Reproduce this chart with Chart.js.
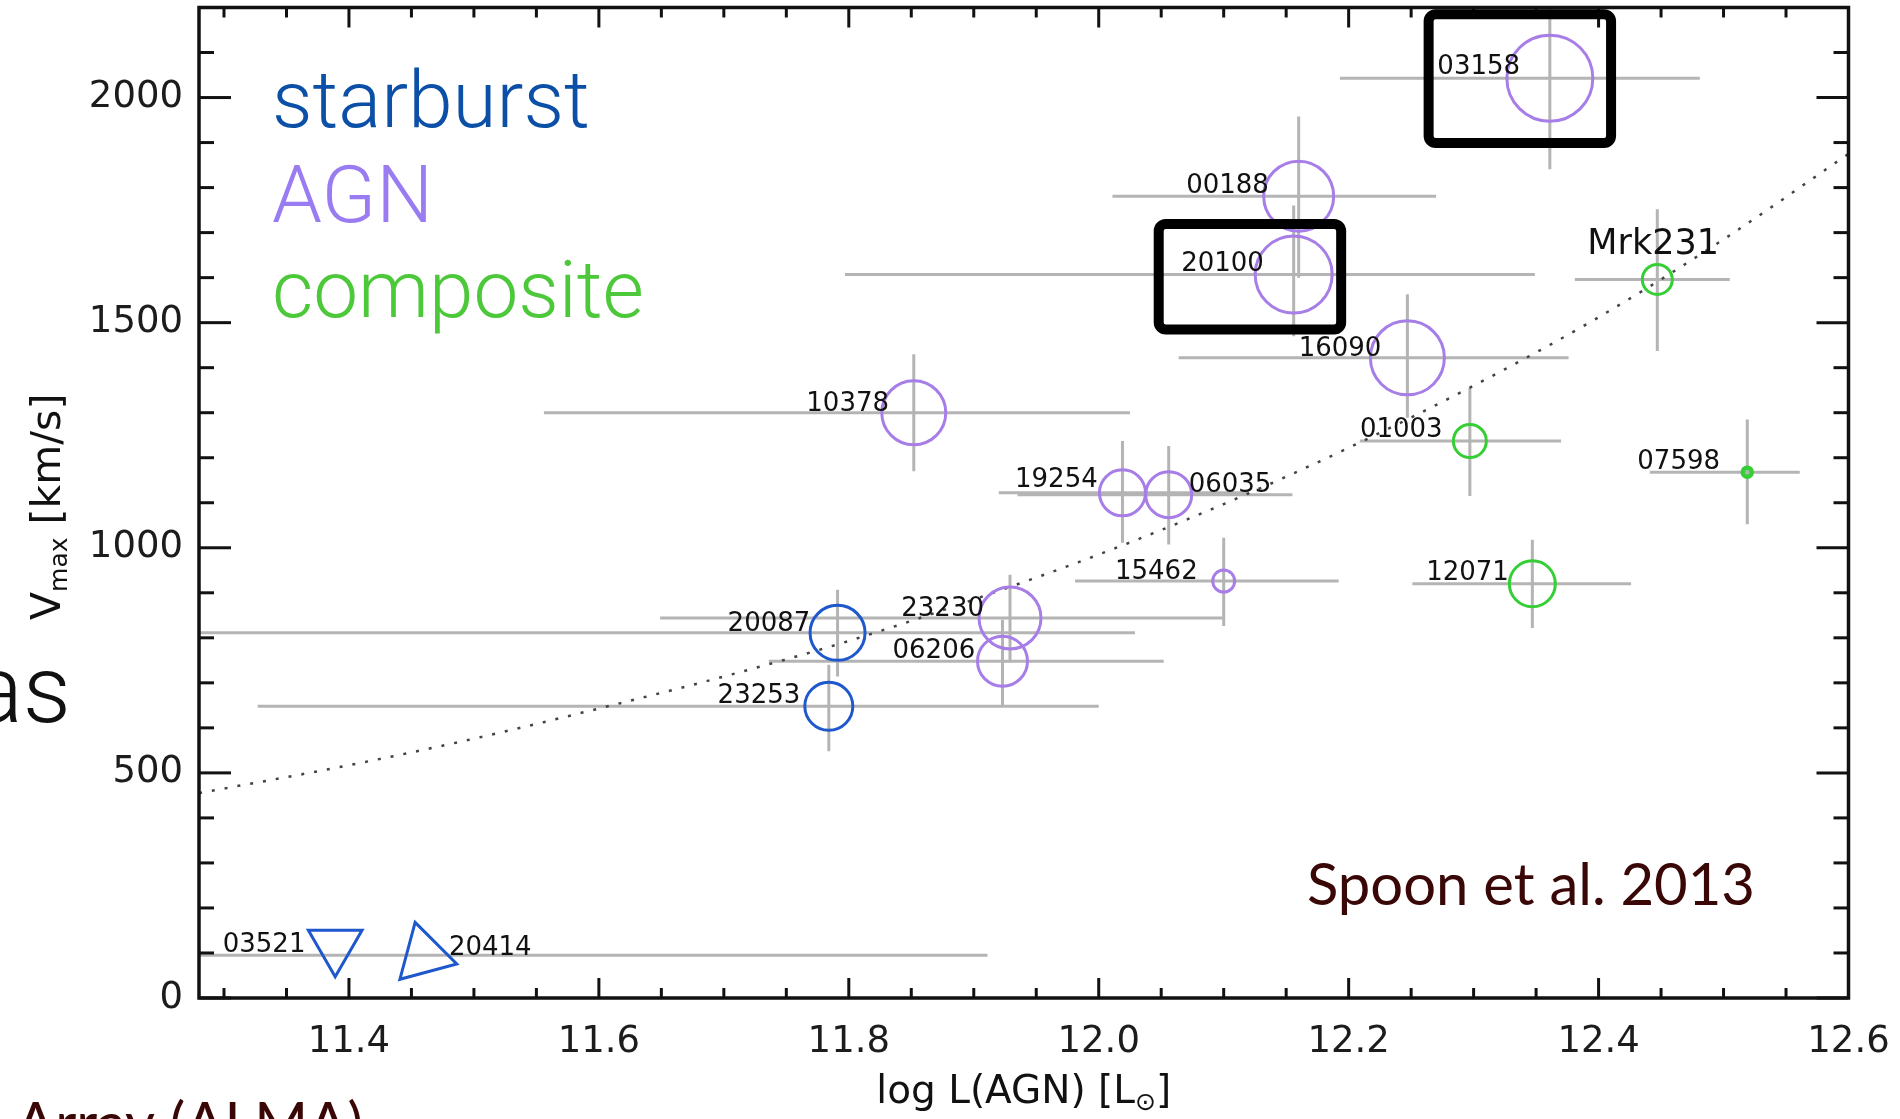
<!DOCTYPE html>
<html><head><meta charset="utf-8">
<script src="https://cdn.jsdelivr.net/npm/chart.js@4.4.1/dist/chart.umd.min.js"></script>
<style>html,body{margin:0;padding:0;background:#fff;overflow:hidden;}canvas{display:block;}</style>
</head><body>
<canvas id="c" width="1900" height="1119"></canvas>
<script>
// ---------- data ----------
const sbNames = ['20087','23253','03521','20414'];
const sbX   = [11.791, 11.784, 11.389, 11.460];
const sbY   = [811, 648, 116, 95];
const sbXLo = [11.20, 11.327, null, 11.20];
const sbXHi = [12.029, 12.000, null, 11.911];
const sbYLo = [714, 548, null, null];
const sbYHi = [907, 740, null, null];
const sbSize = [27.5, 24, 31, 34];
const sbStyle = ['circle','circle','triangle','triangle'];
const sbRot = [0, 0, 180, -15];

const agnNames = ['03158','00188','20100','16090','10378','19254','06035','15462','23230','06206'];
const agnX   = [12.361, 12.160, 12.156, 12.247, 11.852, 12.019, 12.056, 12.100, 11.929, 11.923];
const agnY   = [2043, 1781, 1607, 1422, 1300, 1122, 1118, 926, 844, 748];
const agnXLo = [12.193, 12.011, 11.797, 12.064, 11.556, 11.920, 11.935, 11.981, 11.649, 11.736];
const agnXHi = [12.481, 12.270, 12.349, 12.376, 12.025, 12.120, 12.155, 12.192, 12.099, 12.052];
const agnYLo = [1841, 1600, 1470, 1289, 1170, 1011, 1007, 826, 745, 651];
const agnYHi = [2250, 1958, 1760, 1563, 1430, 1237, 1226, 1022, 940, 840];
const agnSize = [43, 35, 38.5, 37, 32, 23, 23, 11, 31, 25];

const compNames = ['Mrk231','01003','07598','12071'];
const compX   = [12.447, 12.297, 12.519, 12.347];
const compY   = [1596, 1237, 1168, 920];
const compXLo = [12.381, 12.209, 12.441, 12.251];
const compXHi = [12.505, 12.370, 12.561, 12.426];
const compYLo = [1437, 1115, 1052, 822];
const compYHi = [1752, 1355, 1285, 1018];
const compSize = [15, 16.5, 4.5, 23];
const compBorder = [3, 3, 4.5, 3];

// dotted relation
const curveX = [11.28, 11.40, 11.50, 11.60, 11.70, 11.80, 11.90, 12.00, 12.10, 12.20, 12.30, 12.40, 12.50, 12.60];
const curveY = [455, 517, 576, 643, 714, 793, 885, 985, 1097, 1222, 1360, 1512, 1685, 1875];

// ticks
const xTickValues = [11.4, 11.6, 11.8, 12.0, 12.2, 12.4, 12.6];
const xMinorValues = [11.30, 11.35, 11.45, 11.50, 11.55, 11.65, 11.70, 11.75, 11.85, 11.90, 11.95,
                      12.05, 12.10, 12.15, 12.25, 12.30, 12.35, 12.45, 12.50, 12.55];
const yTickValues = [0, 500, 1000, 1500, 2000];
const yMinorValues = [100, 200, 300, 400, 600, 700, 800, 900, 1100, 1200, 1300, 1400,
                      1600, 1700, 1800, 1900, 2100];

// point-name labels (left edge / baseline, data units)
const labelText = ['03158','00188','20100','16090','Mrk231','10378','19254','06035','15462','23230',
                   '20087','06206','23253','01003','07598','12071','03521','20414'];
const labelX = [12.271, 12.070, 12.066, 12.160, 12.391, 11.766, 11.933, 12.072, 12.013, 11.842,
                11.703, 11.835, 11.695, 12.209, 12.431, 12.262, 11.299, 11.480];
const labelY = [2052, 1787, 1614, 1427, 1652, 1303, 1134, 1123, 931, 848,
                816, 756, 656, 1245, 1176, 929, 102, 96];

// hand-drawn highlight boxes (data units)
const boxX0 = [12.264, 12.048];
const boxX1 = [12.410, 12.194];
const boxY0 = [1899, 1485];
const boxY1 = [2185, 1719];

const C_SB = '#1e58cc', C_AGN = '#a77de8', C_COMP = '#35cf35';

// ---------- plugins ----------
const groups = [
  {x: sbX, y: sbY, xlo: sbXLo, xhi: sbXHi, ylo: sbYLo, yhi: sbYHi},
  {x: agnX, y: agnY, xlo: agnXLo, xhi: agnXHi, ylo: agnYLo, yhi: agnYHi},
  {x: compX, y: compY, xlo: compXLo, xhi: compXHi, ylo: compYLo, yhi: compYHi}
];

const errorBars = {
  id: 'errorBars',
  beforeDatasetsDraw(chart) {
    const {ctx, chartArea: a, scales: {x, y}} = chart;
    ctx.save();
    ctx.beginPath(); ctx.rect(a.left, a.top, a.right - a.left, a.bottom - a.top); ctx.clip();
    ctx.strokeStyle = '#b4b4b4'; ctx.lineWidth = 3;
    groups.forEach(g => {
      g.x.forEach((xv, i) => {
        const px = x.getPixelForValue(xv), py = y.getPixelForValue(g.y[i]);
        if (g.xlo[i] != null) {
          ctx.beginPath();
          ctx.moveTo(x.getPixelForValue(g.xlo[i]), py);
          ctx.lineTo(x.getPixelForValue(g.xhi[i]), py);
          ctx.stroke();
        }
        if (g.ylo[i] != null) {
          ctx.beginPath();
          ctx.moveTo(px, y.getPixelForValue(g.ylo[i]));
          ctx.lineTo(px, y.getPixelForValue(g.yhi[i]));
          ctx.stroke();
        }
      });
    });
    ctx.restore();
  }
};

const frameTicks = {
  id: 'frameTicks',
  afterDraw(chart) {
    const {ctx, chartArea: a, scales: {x, y}} = chart;
    ctx.save();
    ctx.strokeStyle = '#111'; ctx.lineWidth = 3;
    const tick = (x0, y0, x1, y1) => { ctx.beginPath(); ctx.moveTo(x0, y0); ctx.lineTo(x1, y1); ctx.stroke(); };
    xTickValues.forEach(v => { const p = x.getPixelForValue(v); tick(p, a.bottom, p, a.bottom - 20); tick(p, a.top, p, a.top + 20); });
    xMinorValues.forEach(v => { const p = x.getPixelForValue(v); tick(p, a.bottom, p, a.bottom - 10); tick(p, a.top, p, a.top + 10); });
    yTickValues.forEach(v => { const p = y.getPixelForValue(v); tick(a.left, p, a.left + 32, p); tick(a.right, p, a.right - 32, p); });
    yMinorValues.forEach(v => { const p = y.getPixelForValue(v); tick(a.left, p, a.left + 15, p); tick(a.right, p, a.right - 15, p); });
    ctx.lineWidth = 3.5;
    ctx.strokeRect(a.left, a.top, a.right - a.left, a.bottom - a.top);
    ctx.restore();
  }
};

const texts = {
  id: 'texts',
  afterDraw(chart) {
    const {ctx, chartArea: a, scales: {x, y}} = chart;
    ctx.save();
    ctx.textBaseline = 'alphabetic'; ctx.textAlign = 'left';
    // point labels
    labelText.forEach((t, i) => {
      ctx.font = (t === 'Mrk231' ? '35px' : '26px') + ' "DejaVu Sans", sans-serif';
      ctx.fillStyle = '#111';
      ctx.fillText(t, x.getPixelForValue(labelX[i]), y.getPixelForValue(labelY[i]));
    });
    // legend words
    ctx.font = '300 80px Roboto, "Open Sans", sans-serif';
    ctx.fillStyle = '#0c4fa6'; ctx.fillText('starburst', 272, 127);
    ctx.fillStyle = '#9a7cf2'; ctx.fillText('AGN', 272, 222);
    ctx.fillStyle = '#4cc83a'; ctx.fillText('composite', 272, 317);
    // citation
    ctx.font = '58px Lato, sans-serif';
    ctx.fillStyle = '#3a0707';
    ctx.fillText('Spoon et al. 2013', 1307, 905);
    ctx.fillText('Array (ALMA)', 16, 1144);
    // slide fragment
    ctx.font = '300 95px Roboto, sans-serif';
    ctx.fillStyle = '#111'; ctx.textAlign = 'right';
    ctx.fillText('as', 71, 722);
    ctx.textAlign = 'left';
    // x title
    ctx.fillStyle = '#111';
    const xcx = (a.left + a.right) / 2;
    ctx.font = '39px "DejaVu Sans", sans-serif';
    const p1 = 'log L(AGN) [L', p3 = ']';
    const w1 = ctx.measureText(p1).width, w3 = ctx.measureText(p3).width;
    ctx.font = '25px "DejaVu Sans", sans-serif';
    const w2 = ctx.measureText('\u2299').width;
    let sx = xcx - (w1 + w2 + w3) / 2;
    ctx.font = '39px "DejaVu Sans", sans-serif'; ctx.fillText(p1, sx, 1103);
    ctx.font = '25px "DejaVu Sans", sans-serif'; ctx.fillText('\u2299', sx + w1, 1110);
    ctx.font = '39px "DejaVu Sans", sans-serif'; ctx.fillText(p3, sx + w1 + w2, 1103);
    // y title
    ctx.save();
    ctx.translate(60, (a.top + a.bottom) / 2 + 4);
    ctx.rotate(-Math.PI / 2);
    ctx.font = '41px "DejaVu Sans", sans-serif';
    const wV = ctx.measureText('V').width, wR = ctx.measureText(' [km/s]').width;
    ctx.font = '25px "DejaVu Sans", sans-serif';
    const wM = ctx.measureText('max').width;
    let s = -(wV + wM + wR) / 2;
    ctx.font = '41px "DejaVu Sans", sans-serif'; ctx.fillText('V', s, 0);
    ctx.font = '25px "DejaVu Sans", sans-serif'; ctx.fillText('max', s + wV, 7);
    ctx.font = '41px "DejaVu Sans", sans-serif'; ctx.fillText(' [km/s]', s + wV + wM, 0);
    ctx.restore();
    // highlight boxes
    ctx.strokeStyle = '#000'; ctx.lineWidth = 10; ctx.lineJoin = 'round';
    boxX0.forEach((b, i) => {
      const l = x.getPixelForValue(b), r = x.getPixelForValue(boxX1[i]);
      const t = y.getPixelForValue(boxY1[i]), btm = y.getPixelForValue(boxY0[i]);
      ctx.beginPath(); ctx.roundRect(l, t, r - l, btm - t, 7); ctx.stroke();
    });
    ctx.restore();
  }
};

// ---------- chart ----------
const pts = (xs, ys) => xs.map((v, i) => ({x: v, y: ys[i]}));
const tickFont = {family: '"DejaVu Sans", sans-serif', size: 37};

new Chart(document.getElementById('c'), {
  type: 'scatter',
  data: {
    datasets: [
      {label: 'starburst', data: pts(sbX, sbY), pointStyle: sbStyle, pointRotation: sbRot,
       pointRadius: sbSize, pointBorderWidth: 3, pointBorderColor: C_SB, pointBackgroundColor: 'rgba(0,0,0,0)', order: 1},
      {label: 'AGN', data: pts(agnX, agnY), pointStyle: 'circle',
       pointRadius: agnSize, pointBorderWidth: 3, pointBorderColor: C_AGN, pointBackgroundColor: 'rgba(0,0,0,0)', order: 1},
      {label: 'composite', data: pts(compX, compY), pointStyle: 'circle',
       pointRadius: compSize, pointBorderWidth: compBorder, pointBorderColor: C_COMP, pointBackgroundColor: 'rgba(0,0,0,0)', order: 1},
      {type: 'line', label: 'relation', data: pts(curveX, curveY), showLine: true, borderColor: '#444',
       borderWidth: 2.5, borderDash: [3, 10], pointRadius: 0, cubicInterpolationMode: 'monotone', fill: false, order: 2}
    ]
  },
  options: {
    responsive: false, animation: false, devicePixelRatio: 1, events: [],
    layout: {autoPadding: false, padding: {top: 7.5, right: 51.5, left: 0, bottom: 0}},
    plugins: {legend: {display: false}, tooltip: {enabled: false}},
    scales: {
      x: {type: 'linear', min: 11.28, max: 12.6,
          afterBuildTicks: s => { s.ticks = xTickValues.map(v => ({value: v})); },
          afterFit: s => { s.height = 121; s.paddingLeft = 0; s.paddingRight = 0; },
          grid: {display: false, drawTicks: false}, border: {display: false},
          ticks: {font: tickFont, color: '#1c1c1c', padding: 22, maxRotation: 0, autoSkip: false,
                  callback: v => Number(v).toFixed(1)}},
      y: {type: 'linear', min: 0, max: 2200,
          afterBuildTicks: s => { s.ticks = yTickValues.map(v => ({value: v})); },
          afterFit: s => { s.width = 199; s.paddingTop = 0; s.paddingBottom = 0; },
          grid: {display: false, drawTicks: false}, border: {display: false},
          ticks: {font: tickFont, color: '#1c1c1c', padding: 16, autoSkip: false,
                  callback: v => String(v)}}
    }
  },
  plugins: [errorBars, frameTicks, texts]
});
</script>
</body></html>
